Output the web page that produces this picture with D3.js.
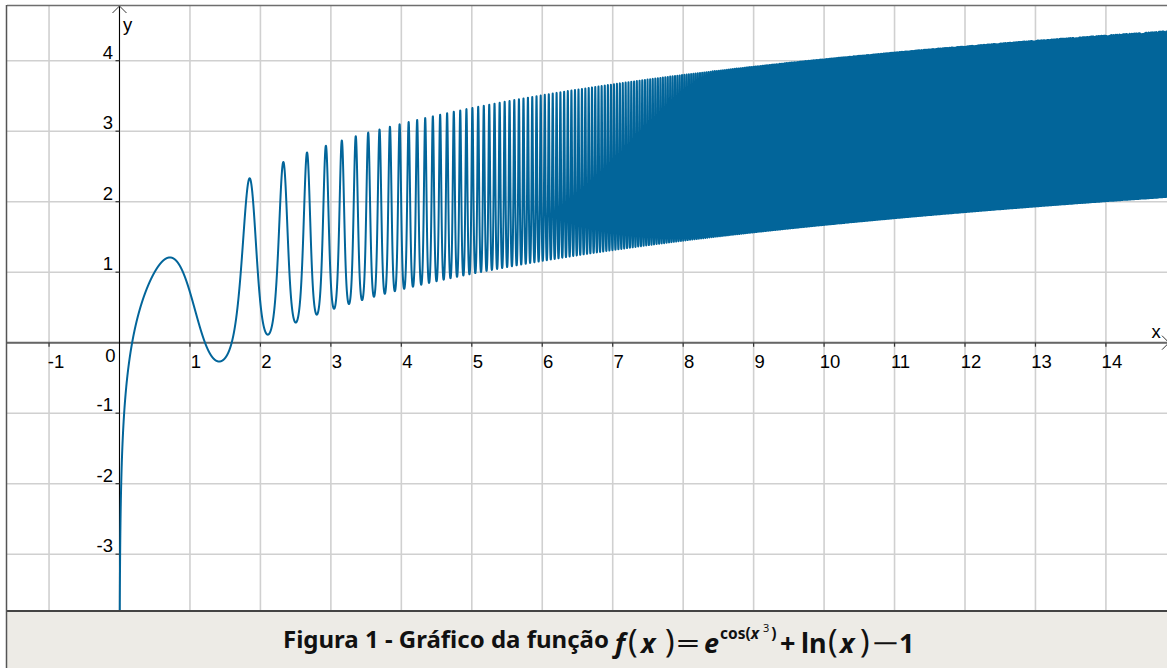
<!DOCTYPE html>
<html>
<head>
<meta charset="utf-8">
<script src="https://cdn.jsdelivr.net/npm/d3@7"></script>
<style>
  html, body { margin: 0; padding: 0; background: #ffffff; }
  svg { display: block; }
</style>
</head>
<body>
<svg id="chart" width="1167" height="668"></svg>
<script>
// Visible window of the graphing view
const xDomain = [-1.696, 14.867];
const yDomain = [-3.806, 4.861];

// Integer grid / tick values
const xTicks = [-1, 1, 2, 3, 4, 5, 6, 7, 8, 9, 10, 11, 12, 13, 14];
const yTicks = [-3, -2, -1, 1, 2, 3, 4];
const gridX = [-1, 0, 1, 2, 3, 4, 5, 6, 7, 8, 9, 10, 11, 12, 13, 14];
const gridY = [-3, -2, -1, 0, 1, 2, 3, 4];

// Plotted function, as written in the caption: f(x) = e^cos(x^3) + ln(x) - 1
const f = x => Math.exp(Math.cos(x * x * x)) + Math.log(x) - 1;
const sampleStart = 0.002;
const samplesPerPixel = 40;

const captionText = "Figura 1 - Gráfico da função";

const W = 1167, H = 668;
const plot = { left: 7, top: 6, right: 1167, bottom: 611 };

const svg = d3.select("#chart");
const x = d3.scaleLinear().domain(xDomain).range([0, W]);
const y = d3.scaleLinear().domain(yDomain).range([plot.bottom, 0]);

const defs = svg.append("defs");
defs.append("clipPath").attr("id", "plotClip")
  .append("rect")
  .attr("x", plot.left).attr("y", plot.top)
  .attr("width", plot.right - plot.left).attr("height", plot.bottom - plot.top);

const g = svg.append("g");

// Grid
g.append("g").selectAll("line").data(gridX).join("line")
  .attr("x1", d => x(d)).attr("x2", d => x(d))
  .attr("y1", plot.top).attr("y2", plot.bottom)
  .attr("stroke", "#d0d0d0").attr("stroke-width", 1.6);
g.append("g").selectAll("line").data(gridY).join("line")
  .attr("x1", plot.left).attr("x2", plot.right)
  .attr("y1", d => y(d)).attr("y2", d => y(d))
  .attr("stroke", "#d0d0d0").attr("stroke-width", 1.6);

// Axes
const x0 = x(0), y0 = y(0);
g.append("line").attr("x1", plot.left).attr("x2", W + 5)
  .attr("y1", y0).attr("y2", y0)
  .attr("stroke", "#666666").attr("stroke-width", 2);
g.append("line").attr("x1", x0).attr("x2", x0)
  .attr("y1", plot.top).attr("y2", plot.bottom)
  .attr("stroke", "#000000").attr("stroke-width", 1);

// Arrow heads
g.append("path")
  .attr("d", `M${x0 - 7},${plot.top + 7}L${x0},${plot.top}L${x0 + 7},${plot.top + 7}`)
  .attr("fill", "none").attr("stroke", "#333").attr("stroke-width", 1);
g.append("path")
  .attr("d", `M${W - 5},${y0 - 7}L${W + 2},${y0}L${W - 5},${y0 + 7}`)
  .attr("fill", "none").attr("stroke", "#333").attr("stroke-width", 1);

// Tick marks
g.append("g").selectAll("line").data(xTicks).join("line")
  .attr("x1", d => x(d)).attr("x2", d => x(d))
  .attr("y1", y0).attr("y2", y0 + 4)
  .attr("stroke", "#333").attr("stroke-width", 1.2);
g.append("g").selectAll("line").data(yTicks).join("line")
  .attr("x1", x0 - 4).attr("x2", x0)
  .attr("y1", d => y(d)).attr("y2", d => y(d))
  .attr("stroke", "#333").attr("stroke-width", 1.2);

// Tick labels
const labelFont = "'Liberation Sans', Arial, sans-serif";
const labelSize = 18.5;
g.append("g").selectAll("text").data(xTicks).join("text")
  .attr("x", d => x(d) + 6 + (d < 0 ? 1 : 0)).attr("y", y0 + 25)
  .attr("text-anchor", "middle")
  .attr("font-family", labelFont).attr("font-size", labelSize).attr("fill", "#000")
  .text(d => d);
g.append("g").selectAll("text").data(yTicks).join("text")
  .attr("x", x0 - 6.5).attr("y", d => y(d) - 2)
  .attr("text-anchor", "end")
  .attr("font-family", labelFont).attr("font-size", labelSize).attr("fill", "#000")
  .text(d => d);
g.append("text").attr("x", x0 - 4).attr("y", y0 + 19.5)
  .attr("text-anchor", "end")
  .attr("font-family", labelFont).attr("font-size", labelSize).text("0");
g.append("text").attr("x", x0 + 3.5).attr("y", 31)
  .attr("font-family", labelFont).attr("font-size", labelSize).text("y");
g.append("text").attr("x", W - 15.5).attr("y", y0 - 4.5)
  .attr("font-family", labelFont).attr("font-size", labelSize).text("x");

// Function curve
const pxPerUnit = (x.range()[1] - x.range()[0]) / (xDomain[1] - xDomain[0]);
const step = 1 / (pxPerUnit * samplesPerPixel);
const pts = d3.range(sampleStart, xDomain[1] + step, step).map(t => [t, f(t)]);
const line = d3.line()
  .x(d => x(d[0]))
  .y(d => y(Math.max(yDomain[0] - 1, Math.min(yDomain[1] + 1, d[1]))));
g.append("path")
  .attr("clip-path", "url(#plotClip)")
  .attr("d", line(pts))
  .attr("fill", "none")
  .attr("stroke", "#02659a")
  .attr("stroke-width", 2)
  .attr("stroke-linejoin", "round");

// Frame
svg.append("line").attr("x1", plot.left).attr("x2", W)
  .attr("y1", plot.top - 0.5).attr("y2", plot.top - 0.5)
  .attr("stroke", "#6e6e6e").attr("stroke-width", 1.5);
svg.append("rect")
  .attr("x", plot.left).attr("y", plot.bottom)
  .attr("width", W - plot.left).attr("height", H - plot.bottom)
  .attr("fill", "#edebe6");
svg.append("line").attr("x1", plot.left).attr("x2", W)
  .attr("y1", plot.bottom).attr("y2", plot.bottom)
  .attr("stroke", "#444").attr("stroke-width", 2);
svg.append("line").attr("x1", plot.left - 0.5).attr("x2", plot.left - 0.5)
  .attr("y1", plot.top - 1).attr("y2", H)
  .attr("stroke", "#555").attr("stroke-width", 1.5);

// Caption
const capFont = "'Noto Sans', 'Open Sans', sans-serif";
svg.append("text").attr("x", 283).attr("y", 647.5)
  .attr("font-family", capFont).attr("font-weight", "bold")
  .attr("font-size", 24).attr("fill", "#111")
  .text(captionText);

// Formula, built piece by piece
const formula = [
  { t: "f", dx: 615, dy: 653, size: 27, style: "italic", weight: "bold" },
  { t: "(", dx: 628, dy: 653, size: 32, weight: "normal" },
  { t: "x", dx: 641, dy: 653, size: 27, style: "italic", weight: "bold" },
  { t: ")", dx: 665, dy: 653, size: 32, weight: "normal" },
  { t: "=", dx: 676, dy: 653, size: 27, weight: "normal", len: 24 },
  { t: "e", dx: 704, dy: 653, size: 27, style: "italic", weight: "bold" },
  { t: "+", dx: 780, dy: 653, size: 27, weight: "bold" },
  { t: "ln", dx: 801, dy: 653, size: 27, weight: "bold" },
  { t: "(", dx: 828, dy: 653, size: 32, weight: "normal" },
  { t: "x", dx: 840, dy: 653, size: 27, style: "italic", weight: "bold" },
  { t: ")", dx: 860, dy: 653, size: 32, weight: "normal" },
  { t: "\u2212", dx: 872, dy: 653, size: 27, weight: "normal", len: 27 },
  { t: "1", dx: 899, dy: 653, size: 27, weight: "bold" }
];
svg.append("g").selectAll("text").data(formula).join("text")
  .attr("x", d => d.dx).attr("y", d => d.dy)
  .attr("font-family", capFont)
  .attr("font-size", d => d.size)
  .attr("font-style", d => d.style || "normal")
  .attr("font-weight", d => d.weight)
  .attr("fill", "#111")
  .each(function(d) {
    if (d.len) d3.select(this).attr("textLength", d.len).attr("lengthAdjust", "spacingAndGlyphs");
  })
  .text(d => d.t);

// Exponent cos(x^3), flowed as one text run
const sup = svg.append("text").attr("x", 720).attr("y", 639)
  .attr("font-family", capFont).attr("font-weight", "bold")
  .attr("font-size", 15.5).attr("fill", "#111");
sup.append("tspan").text("cos(");
sup.append("tspan").attr("font-style", "italic").text("x");
sup.append("tspan").attr("font-weight", "normal").attr("font-size", 11)
  .attr("dx", 4).attr("dy", -7).text("3");
sup.append("tspan").attr("dx", 2).attr("dy", 7).text(")");
</script>
</body>
</html>
